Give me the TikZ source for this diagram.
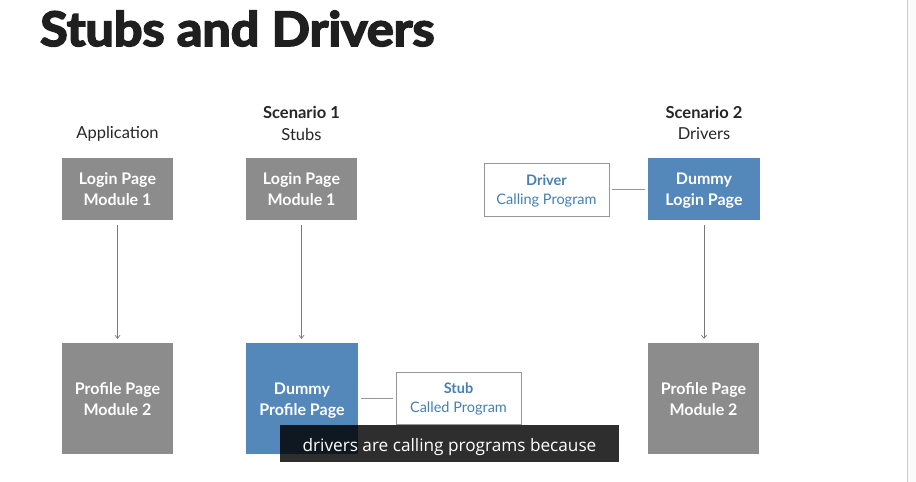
\documentclass[tikz,border=0pt]{standalone}
\usepackage{fontspec}
\setmainfont{Lato}
\newfontfamily\titlefont[BoldFeatures={FakeBold=3.5}]{Lato}
\newfontfamily\capfont{Open Sans}
\usetikzlibrary{arrows.meta}
\definecolor{boxgray}{RGB}{140,140,140}
\definecolor{boxblue}{RGB}{84,136,186}
\definecolor{textblue}{RGB}{70,128,180}
\definecolor{edgegray}{RGB}{120,120,120}
\definecolor{linegray}{RGB}{150,150,150}
\definecolor{sideline}{RGB}{200,212,168}
\newcommand\mystrut{\vphantom{Ág}}
\tikzset{
  graybox/.style={draw=none,fill=boxgray,text=white,font=\bfseries\fontsize{16}{21}\selectfont,align=center,inner sep=0pt},
  bluebox/.style={draw=none,fill=boxblue,text=white,font=\bfseries\fontsize{16}{21}\selectfont,align=center,inner sep=0pt},
  whitebox/.style={draw=linegray,line width=0.9pt,fill=white,text=textblue,font=\fontsize{14.5}{19}\selectfont,align=center,inner sep=0pt},
  label/.style={font=\fontsize{16.5}{20}\selectfont,text=black!85,inner sep=0pt},
  arr/.style={draw=edgegray,line width=0.7pt,-{Straight Barb[length=3pt,width=5pt]},shorten <=5pt,shorten >=4pt},
  link/.style={draw=linegray,line width=0.9pt,shorten <=3pt,shorten >=3pt}
}
\begin{document}
\begin{tikzpicture}[x=1pt,y=-1pt]
\useasboundingbox (0,0) rectangle (916,482);
\fill[white] (0,0) rectangle (916,482);
\fill[black!2] (907,0) rectangle (916,482);
\draw[sideline,line width=1pt] (907,0) -- (907,482);

\node[anchor=base west,inner sep=0pt,xscale=1.06,font=\titlefont\bfseries\fontsize{47.5}{50}\selectfont,text=black!88] (title) at (40,46) {Stubs and Drivers};

\node[label] (lapp) at (117.5,134) {Application};
\node[label,font=\bfseries\fontsize{16.5}{20}\selectfont] (ls1) at (301.5,112) {Scenario 1};
\node[label] (ls1b) at (301.5,134) {Stubs};
\node[label,font=\bfseries\fontsize{16.5}{20}\selectfont] (ls2) at (704,112) {Scenario 2};
\node[label] (ls2b) at (704,134) {Drivers};

\node[graybox,minimum width=111pt,minimum height=62pt] (a1) at (117.5,189) {Login Page\mystrut\\Module 1\mystrut};
\node[graybox,minimum width=111pt,minimum height=111pt] (a2) at (117.5,398.5) {Profile Page\mystrut\\Module 2\mystrut};

\node[graybox,minimum width=111pt,minimum height=62pt] (s1) at (301.5,189) {Login Page\mystrut\\Module 1\mystrut};
\node[bluebox,minimum width=112pt,minimum height=111pt] (s2) at (302,398.5) {Dummy\mystrut\\Profile Page\mystrut};
\node[whitebox,minimum width=125pt,minimum height=52pt] (stub) at (458.5,398) {\textbf{Stub}\mystrut\\Called Program\mystrut};

\node[whitebox,minimum width=125pt,minimum height=53pt] (drv) at (546.5,189.5) {\textbf{Driver}\mystrut\\Calling Program\mystrut};
\node[bluebox,minimum width=112pt,minimum height=62pt] (d1) at (704,189) {Dummy\mystrut\\Login Page\mystrut};
\node[graybox,minimum width=111pt,minimum height=111pt] (d2) at (703.5,398.5) {Profile Page\mystrut\\Module 2\mystrut};

\draw[arr] (a1) -- (a2);
\draw[arr] (s1.south) -- (s1.south |- s2.north);
\draw[arr] (d1.south) -- (d1.south |- d2.north);
\draw[link] (s2.east |- stub.west) -- (stub.west);
\draw[link] (drv.east) -- (drv.east -| d1.west);

\node[fill=black,fill opacity=0.82,text opacity=1,text=white,minimum width=339pt,minimum height=37pt,inner sep=0pt,text height=15pt,text depth=0pt,font=\capfont\fontsize{17.2}{20}\selectfont] (cap) at (449.5,443.5) {drivers are calling programs because};
\end{tikzpicture}
\end{document}
